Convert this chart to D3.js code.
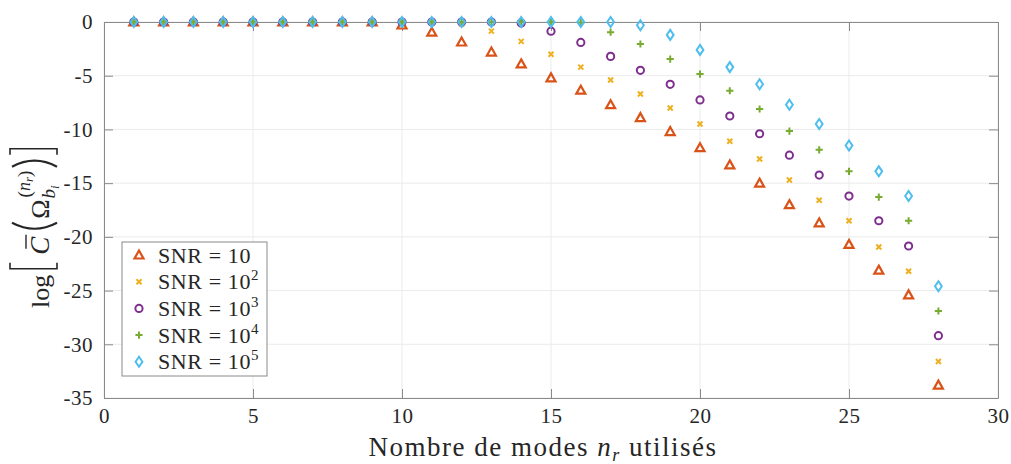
<!DOCTYPE html>
<html>
<head>
<meta charset="utf-8">
<script src="https://cdn.jsdelivr.net/npm/d3@7"></script>
<style>
  body { margin: 0; background: #fff; }
  svg { font-family: "Liberation Serif", "DejaVu Serif", serif; }
</style>
</head>
<body>
<svg id="chart" width="1011" height="464"></svg>
<script>
// nombre de modes n_r
const modes = d3.range(1, 29)

// log C, une serie par SNR
const snr1 = [0, 0, 0, 0, 0, 0, 0, 0, 0, -0.28, -0.95, -1.86, -2.8, -3.9, -5.2, -6.35, -7.7, -8.9, -10.2, -11.7, -13.3, -15.0, -17.0, -18.7, -20.7, -23.1, -25.4, -33.8]
const snr2 = [0, 0, 0, 0, 0, 0, 0, 0, 0, 0, -0.05, -0.2, -0.85, -1.8, -3.0, -4.2, -5.4, -6.7, -8.0, -9.5, -11.1, -12.75, -14.7, -16.6, -18.5, -20.95, -23.2, -31.6]
const snr3 = [0, 0, 0, 0, 0, 0, 0, 0, 0, 0, 0, 0, 0, -0.1, -0.85, -1.9, -3.2, -4.5, -5.8, -7.25, -8.75, -10.4, -12.4, -14.25, -16.2, -18.5, -20.85, -29.2]
const snr4 = [0, 0, 0, 0, 0, 0, 0, 0, 0, 0, 0, 0, 0, 0, 0, -0.05, -0.95, -2.05, -3.45, -4.85, -6.4, -8.1, -10.15, -11.9, -13.9, -16.3, -18.5, -26.9]
const snr5 = [0, 0, 0, 0, 0, 0, 0, 0, 0, 0, 0, 0, 0, 0, 0, 0, 0, -0.3, -1.2, -2.6, -4.2, -5.8, -7.7, -9.5, -11.5, -13.9, -16.2, -24.6]

const seriesNames = ['10', '2', '3', '4', '5']
const seriesColors = ['#D95319', '#EDB120', '#7E2F8E', '#77AC30', '#4DBEEE']
const seriesMarkers = ['triangle', 'cross', 'circle', 'plus', 'diamond']

const xTicks = [0, 5, 10, 15, 20, 25, 30]
const yTicks = [0, -5, -10, -15, -20, -25, -30, -35]

const series = [snr1, snr2, snr3, snr4, snr5].map(function (vals, i) {
  return { name: seriesNames[i], color: seriesColors[i], marker: seriesMarkers[i],
           points: vals.map(function (v, j) { return { n: modes[j], v: v } }) }
})

const svg = d3.select('#chart')
const x = d3.scaleLinear().domain([0, 30]).range([104, 998])
const y = d3.scaleLinear().domain([-35, 0]).range([398, 22])
const AXIS = '#8a8a8a'

// grille
const grid = svg.append('g')
grid.selectAll('.gx').data(xTicks).join('line')
  .attr('x1', d => x(d)).attr('x2', d => x(d)).attr('y1', y(0)).attr('y2', y(-35))
  .attr('stroke', '#ebebeb').attr('stroke-width', 1)
grid.selectAll('.gy').data(yTicks).join('line')
  .attr('y1', d => y(d)).attr('y2', d => y(d)).attr('x1', x(0)).attr('x2', x(30))
  .attr('stroke', '#ebebeb').attr('stroke-width', 1)

// axes (boite)
function styleAxis (g) {
  g.select('.domain').attr('stroke', AXIS)
  g.selectAll('.tick line').attr('stroke', AXIS)
  g.selectAll('.tick text').attr('fill', '#262626').attr('font-size', 21)
    .attr('font-family', '"Liberation Serif", serif').attr('letter-spacing', 0.5)
}
svg.append('g').attr('transform', 'translate(0,' + y(-35) + ')')
  .call(d3.axisBottom(x).tickValues(xTicks).tickSizeInner(-9).tickSizeOuter(0).tickPadding(10))
  .call(styleAxis)
svg.append('g').attr('transform', 'translate(0,' + y(0) + ')')
  .call(d3.axisTop(x).tickValues(xTicks).tickSizeInner(-9).tickSizeOuter(0).tickFormat(''))
  .call(styleAxis)
svg.append('g').attr('transform', 'translate(' + x(0) + ',0)')
  .call(d3.axisLeft(y).tickValues(yTicks).tickSizeInner(-9).tickSizeOuter(0).tickPadding(11)
    .tickFormat(d => d === 0 ? '0' : '-' + Math.abs(d)))
  .call(styleAxis)
svg.append('g').attr('transform', 'translate(' + x(30) + ',0)')
  .call(d3.axisRight(y).tickValues(yTicks).tickSizeInner(-9).tickSizeOuter(0).tickFormat(''))
  .call(styleAxis)

// marqueurs
function drawMarker (sel, kind, color) {
  if (kind === 'triangle') {
    sel.append('path').attr('d', 'M0,-4.5L4.5,3.5L-4.5,3.5Z')
      .attr('fill', 'none').attr('stroke', color).attr('stroke-width', 2.2)
  } else if (kind === 'cross') {
    sel.append('path').attr('d', 'M-2.5,-2.5L2.5,2.5M-2.5,2.5L2.5,-2.5')
      .attr('stroke', color).attr('stroke-width', 2)
  } else if (kind === 'circle') {
    sel.append('circle').attr('r', 3.6)
      .attr('fill', 'none').attr('stroke', color).attr('stroke-width', 2)
  } else if (kind === 'plus') {
    sel.append('path').attr('d', 'M-3.6,0L3.6,0M0,-3.6L0,3.6')
      .attr('stroke', color).attr('stroke-width', 2)
  } else {
    sel.append('path').attr('d', 'M0,-5L3.4,0L0,5L-3.4,0Z')
      .attr('fill', 'none').attr('stroke', color).attr('stroke-width', 2)
  }
}

series.forEach(function (s) {
  svg.append('g').selectAll('g').data(s.points).join('g')
    .attr('transform', d => 'translate(' + x(d.n) + ',' + y(d.v) + ')')
    .each(function () { drawMarker(d3.select(this), s.marker, s.color) })
})

// legende
const lg = svg.append('g').attr('transform', 'translate(122,242)')
lg.append('rect').attr('width', 145).attr('height', 134)
  .attr('fill', '#fff').attr('stroke', AXIS).attr('stroke-width', 1)
series.forEach(function (s, i) {
  const row = lg.append('g').attr('transform', 'translate(17,' + (13 + i * 26.7) + ')')
  drawMarker(row, s.marker, s.color)
  const t = row.append('text').attr('x', 19).attr('y', 7.5).attr('font-size', 22).attr('fill', '#262626')
    .attr('letter-spacing', 0.6)
  if (s.name === '10') {
    t.text('SNR = 10')
  } else {
    t.append('tspan').text('SNR = 10')
    t.append('tspan').attr('font-size', 15).attr('dy', -9).text(s.name)
  }
})

// titre x
const xl = svg.append('text').attr('x', 543).attr('y', 456).attr('text-anchor', 'middle')
  .attr('font-size', 27).attr('fill', '#262626').attr('letter-spacing', 1.5)
xl.append('tspan').text('Nombre de modes ')
xl.append('tspan').attr('font-style', 'italic').text('n')
xl.append('tspan').attr('font-style', 'italic').attr('font-size', 18).attr('dy', 5).text('r')
xl.append('tspan').attr('dy', -5).text(' utilisés')

// titre y : log [ C̄ ( Ω_{b_i}^{(n_r)} ) ]
const yl = svg.append('g').attr('transform', 'translate(49,308) rotate(-90)')
  .attr('fill', '#262626')
let u = 0
function put (s, size, dy, italic, dx) {
  const t = yl.append('text').attr('x', u + (dx || 0)).attr('y', dy).attr('font-size', size).text(s)
  if (italic) t.attr('font-style', 'italic')
  return t.node().getComputedTextLength()
}
function bracket (open) {
  const w = 6
  const d = open ? 'M' + (u + w) + ',-39L' + u + ',-39L' + u + ',8L' + (u + w) + ',8'
                 : 'M' + u + ',-39L' + (u + w) + ',-39L' + (u + w) + ',8L' + u + ',8'
  yl.append('path').attr('d', d).attr('fill', 'none').attr('stroke', '#262626').attr('stroke-width', 1.6)
}
function paren (open) {
  const d = open ? 'M' + (u + 9) + ',-37Q' + (u - 3) + ',-14.5 ' + (u + 9) + ',8'
                 : 'M' + u + ',-37Q' + (u + 12) + ',-14.5 ' + u + ',8'
  yl.append('path').attr('d', d).attr('fill', 'none').attr('stroke', '#262626').attr('stroke-width', 2.2)
}
u += put('log', 26, 0) + 6
bracket(true); u += 14
const wc = put('C', 27, 0, true)
yl.append('line').attr('x1', u + 6).attr('x2', u + wc + 2).attr('y1', -23).attr('y2', -23)
  .attr('stroke', '#262626').attr('stroke-width', 1.4)
u += wc + 5
paren(true); u += 13
u += put('Ω', 26, 0) + 1
const u0 = u
const wb = put('b', 19, 6, true)
u += wb
put('i', 13, 10, true)
u = u0 + 1
let ws = put('(', 19, -18)
u += ws
ws = put('n', 18, -19, true); u += ws
ws = put('r', 13, -16, true); u += ws
ws = put(')', 19, -18); u += ws + 4
paren(false); u += 12
bracket(false)
</script>
</body>
</html>
